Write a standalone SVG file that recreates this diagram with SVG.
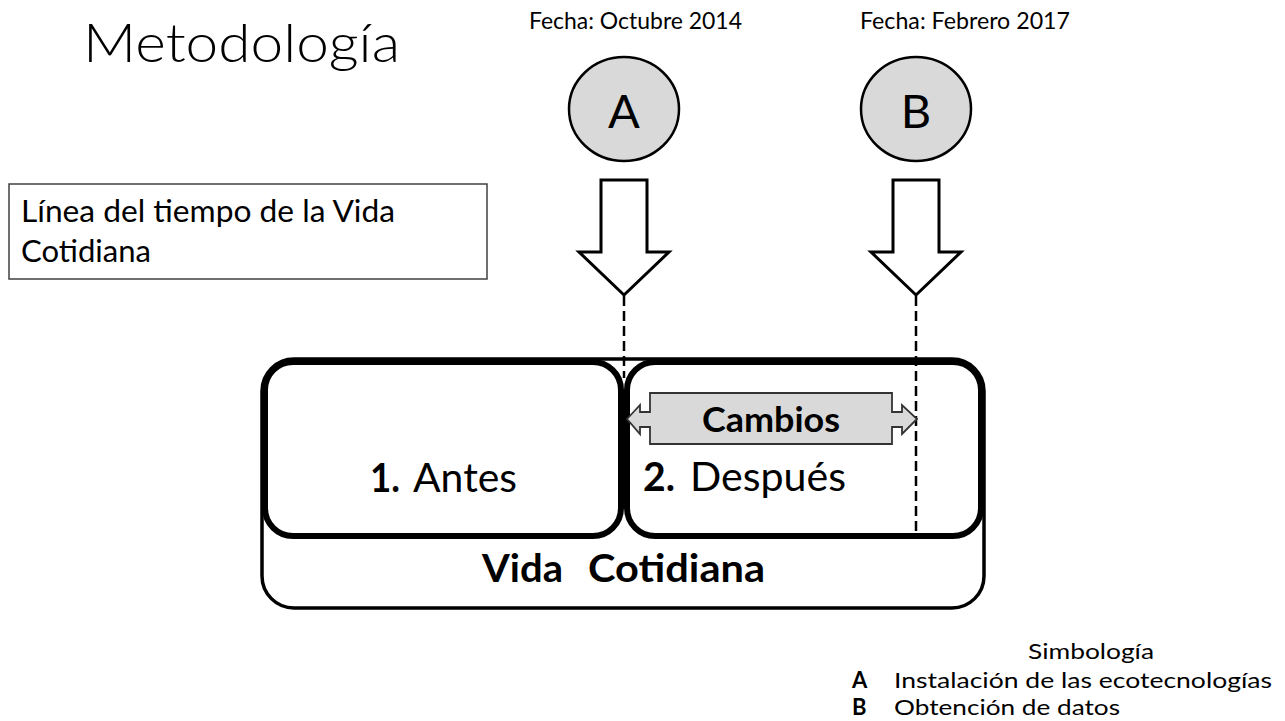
<svg xmlns="http://www.w3.org/2000/svg" width="1285" height="721" viewBox="0 0 1285 721">
<style>
  text { font-family: Lato, "Open Sans", "Liberation Sans", sans-serif; fill: #000; }
  .b { font-weight: 700; }
  .lt { font-weight: 300; }
  .circ { fill: #d9d9d9; stroke: #000; stroke-width: 2.5; }
  .blk { fill: #fff; stroke: #000; stroke-width: 3; stroke-linejoin: miter; }
  .dash { stroke: #000; stroke-width: 2.5; stroke-dasharray: 10 5; fill: none; }
  .inner { fill: #fff; stroke: #000; stroke-width: 6; }
  .leg { font-size: 22px; }
</style>

<g id="title">
  <text x="83" y="62" font-size="54" class="lt" textLength="317" lengthAdjust="spacingAndGlyphs">Metodología</text>
</g>

<g id="timeline-label">
  <rect x="9" y="184" width="478" height="95" fill="#fff" stroke="#404040" stroke-width="1.5"/>
  <text x="21" y="222" font-size="30.5" textLength="374" lengthAdjust="spacingAndGlyphs">Línea del tiempo de la Vida</text>
  <text x="21" y="262" font-size="30.5" textLength="130" lengthAdjust="spacingAndGlyphs">Cotidiana</text>
</g>

<g id="vida-cotidiana">
  <rect x="262" y="359" width="722" height="249" rx="32" ry="32" fill="#fff" stroke="#000" stroke-width="3.5"/>
  <text x="482" y="582" font-size="39" class="b" textLength="81" lengthAdjust="spacingAndGlyphs">Vida</text>
  <text x="588" y="582" font-size="39" class="b" textLength="177" lengthAdjust="spacingAndGlyphs">Cotidiana</text>
</g>

<g id="antes">
  <rect x="265" y="362" width="356" height="174" rx="28" ry="28" class="inner"/>
  <text x="370" y="492" font-size="40" class="b" textLength="30" lengthAdjust="spacingAndGlyphs">1.</text>
  <text x="413" y="492" font-size="40" textLength="104" lengthAdjust="spacingAndGlyphs">Antes</text>
</g>

<g id="despues">
  <rect x="627" y="362" width="354" height="174" rx="28" ry="28" class="inner"/>
  <text x="643" y="491" font-size="40" class="b" textLength="32" lengthAdjust="spacingAndGlyphs">2.</text>
  <text x="690" y="491" font-size="40" textLength="156" lengthAdjust="spacingAndGlyphs">Después</text>
</g>

<g id="node-a">
  <text x="529" y="29" font-size="22.5" fill="#222" textLength="213" lengthAdjust="spacingAndGlyphs">Fecha: Octubre 2014</text>
  <ellipse cx="624" cy="109" rx="55" ry="52" class="circ"/>
  <text x="624" y="128" font-size="47" text-anchor="middle">A</text>
</g>

<g id="node-b">
  <text x="860" y="29" font-size="22.5" fill="#222" textLength="210" lengthAdjust="spacingAndGlyphs">Fecha: Febrero 2017</text>
  <ellipse cx="916" cy="109" rx="55" ry="52" class="circ"/>
  <text x="916" y="128" font-size="47" text-anchor="middle">B</text>
</g>

<g id="connectors">
  <polygon class="blk" points="601,180 647,180 647,252 669,252 624,295 579,252 601,252"/>
  <polygon class="blk" points="893,180 939,180 939,252 961,252 916,295 871,252 893,252"/>
  <line class="dash" x1="624" y1="296" x2="624" y2="378"/>
  <line class="dash" x1="916" y1="296" x2="916" y2="536"/>
</g>

<g id="cambios">
  <polygon points="627,419 640,405 640,412 650,412 650,393 892,393 892,412 902,412 902,405 917,419 902,434 902,427 892,427 892,444 650,444 650,427 640,427 640,434" fill="#d9d9d9" stroke="#333" stroke-width="1.8" stroke-linejoin="miter"/>
  <text x="702" y="432" font-size="35" class="b" textLength="138" lengthAdjust="spacingAndGlyphs">Cambios</text>
</g>

<g id="legend">
  <text x="1028" y="659" class="leg" textLength="126" lengthAdjust="spacingAndGlyphs">Simbología</text>
  <text x="852" y="688" class="leg b">A</text>
  <text x="894" y="688" class="leg" textLength="378" lengthAdjust="spacingAndGlyphs">Instalación de las ecotecnologías</text>
  <text x="852" y="715" class="leg b">B</text>
  <text x="894" y="715" class="leg" textLength="226" lengthAdjust="spacingAndGlyphs">Obtención de datos</text>
</g>
</svg>
